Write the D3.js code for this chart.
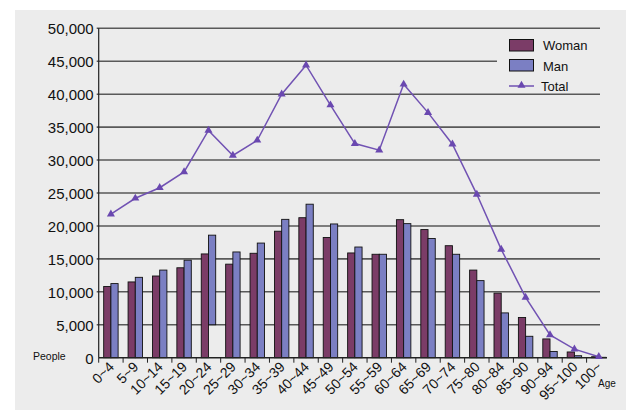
<!DOCTYPE html>
<html>
<head>
<meta charset="utf-8">
<script src="https://cdn.jsdelivr.net/npm/d3@7"></script>
<style>
  body { margin: 0; background: #fff; }
  text { font-family: "Liberation Sans", Arial, Helvetica, sans-serif; fill: #111; }
</style>
</head>
<body>
<div id="chart-area"></div>
<script>
// data
let ages = ["0~4","5~9","10~14","15~19","20~24","25~29","30~34","35~39","40~44","45~49",
  "50~54","55~59","60~64","65~69","70~74","75~80","80~84","85~90","90~94","95~100","100~"];
let woman = [10800,11500,12400,13650,15750,14200,15850,19200,21250,18250,
  15900,15700,20950,19450,17000,13300,9800,6100,2850,870,150];
let man = [11250,12200,13300,14800,18600,16050,17400,21000,23300,20300,
  16800,15700,20350,18100,15700,11700,6800,3250,950,300,60];
// the 20~24 Man bar does not reach the baseline in the source
let manFrom = [0,0,0,0,5000,0,0,0,0,0,0,0,0,0,0,0,0,0,0,0,0];
let total = [21800,24200,25800,28200,34500,30700,33000,40000,44400,38350,
  32500,31500,41500,37200,32400,24800,16450,9150,3450,1300,150];
let yTicks = [0,5000,10000,15000,20000,25000,30000,35000,40000,45000,50000];

let width = 626, height = 411;
let plotLeft = 98.7, plotTop = 28.3, plotBottom = 357.7, gridRight = 600;

let svg = d3.select("#chart-area").append("svg")
  .attr("width", width)
  .attr("height", height);

svg.append("rect")
  .attr("x", 15).attr("y", 10)
  .attr("width", width - 15).attr("height", 400)
  .attr("fill", "#ececec");

let x = d3.scaleBand()
  .domain(ages)
  .range([plotLeft, 611])
  .padding(0);

let sub = d3.scaleBand()
  .domain(["Woman","Man"])
  .range([0, x.bandwidth()])
  .paddingInner(0)
  .paddingOuter(0.69);

let y = d3.scaleLinear()
  .domain([0, 50000])
  .range([plotBottom, plotTop]);

// gridlines
svg.append("g").selectAll("line")
  .data(yTicks.slice(1))
  .enter().append("line")
  .attr("x1", plotLeft - 2).attr("x2", gridRight)
  .attr("y1", d => y(d)).attr("y2", d => y(d))
  .attr("stroke", "#595959")
  .attr("stroke-width", 1.6);

// y axis labels
let yAxis = d3.axisLeft(y)
  .tickValues(yTicks)
  .tickFormat(d3.format(","))
  .tickSize(0)
  .tickPadding(5);
let gy = svg.append("g")
  .attr("transform", "translate(" + plotLeft + ",0)")
  .call(yAxis);
gy.select(".domain").remove();
gy.selectAll("text")
  .attr("font-size", 15)
  .attr("font-family", "Liberation Sans, Arial, sans-serif")
  .attr("fill", "#111")
  .attr("dy", "0.36em");

// legend background hides part of the 45,000 line
svg.append("rect")
  .attr("x", 497).attr("y", 34)
  .attr("width", 105).attr("height", 56)
  .attr("fill", "#ececec");

// bars
let groups = svg.append("g").selectAll("g")
  .data(ages)
  .enter().append("g")
  .attr("transform", d => "translate(" + x(d) + ",0)");

groups.append("rect")
  .attr("x", sub("Woman"))
  .attr("width", sub.bandwidth())
  .attr("y", (d, i) => y(woman[i]))
  .attr("height", (d, i) => y(0) - y(woman[i]))
  .attr("fill", "#7b3c67")
  .attr("stroke", "#111")
  .attr("stroke-width", 0.9);

groups.append("rect")
  .attr("x", sub("Man"))
  .attr("width", sub.bandwidth())
  .attr("y", (d, i) => y(man[i]))
  .attr("height", (d, i) => y(manFrom[i]) - y(man[i]))
  .attr("fill", "#7b7fc3")
  .attr("stroke", "#111")
  .attr("stroke-width", 0.9);

// axes lines
svg.append("line")
  .attr("x1", plotLeft).attr("x2", plotLeft)
  .attr("y1", plotTop).attr("y2", plotBottom)
  .attr("stroke", "#222").attr("stroke-width", 1.2);
svg.append("line")
  .attr("x1", plotLeft).attr("x2", 607)
  .attr("y1", plotBottom).attr("y2", plotBottom)
  .attr("stroke", "#222").attr("stroke-width", 1.4);

// x ticks at band edges
svg.append("g").selectAll("line")
  .data(ages)
  .enter().append("line")
  .attr("x1", d => x(d)).attr("x2", d => x(d))
  .attr("y1", plotBottom).attr("y2", plotBottom + 5)
  .attr("stroke", "#222").attr("stroke-width", 1);

svg.append("g").selectAll("text")
  .data(ages)
  .enter().append("text")
  .attr("text-anchor", "end")
  .attr("font-size", 14)
  .attr("transform", d => "translate(" + (x(d) + x.bandwidth() / 2 + 4) + "," + (plotBottom + 10) + ") rotate(-45)")
  .text(d => d);

// total line
let line = d3.line()
  .x((d, i) => x(ages[i]) + x.bandwidth() / 2)
  .y(d => y(d));

svg.append("path")
  .datum(total)
  .attr("d", line)
  .attr("fill", "none")
  .attr("stroke", "#7152b3")
  .attr("stroke-width", 1.5);

let tri = d3.symbol().type(d3.symbolTriangle).size(28);
svg.append("g").selectAll("path")
  .data(total)
  .enter().append("path")
  .attr("d", tri)
  .attr("transform", (d, i) => "translate(" + (x(ages[i]) + x.bandwidth() / 2) + "," + y(d) + ")")
  .attr("fill", "#6a48b0");

// legend
let legend = [
  {name: "Woman", color: "#7b3c67"},
  {name: "Man", color: "#7b7fc3"}
];
legend.forEach((l, i) => {
  svg.append("rect")
    .attr("x", 509.5).attr("y", 39.5 + i * 20)
    .attr("width", 24).attr("height", 11.5)
    .attr("fill", l.color)
    .attr("stroke", "#111").attr("stroke-width", 1);
  svg.append("text")
    .attr("x", 543).attr("y", 50 + i * 20.5)
    .attr("font-size", 13)
    .text(l.name);
});
svg.append("line")
  .attr("x1", 509).attr("x2", 534)
  .attr("y1", 86).attr("y2", 86)
  .attr("stroke", "#7152b3").attr("stroke-width", 1.5);
svg.append("path")
  .attr("d", tri)
  .attr("transform", "translate(521.5,85.5)")
  .attr("fill", "#6a48b0");
svg.append("text")
  .attr("x", 541).attr("y", 90.5)
  .attr("font-size", 13)
  .text("Total");

// axis captions
svg.append("text")
  .attr("x", 33).attr("y", 360)
  .attr("font-size", 10.5)
  .text("People");
svg.append("text")
  .attr("x", 598).attr("y", 387)
  .attr("font-size", 10)
  .text("Age");
</script>
</body>
</html>
